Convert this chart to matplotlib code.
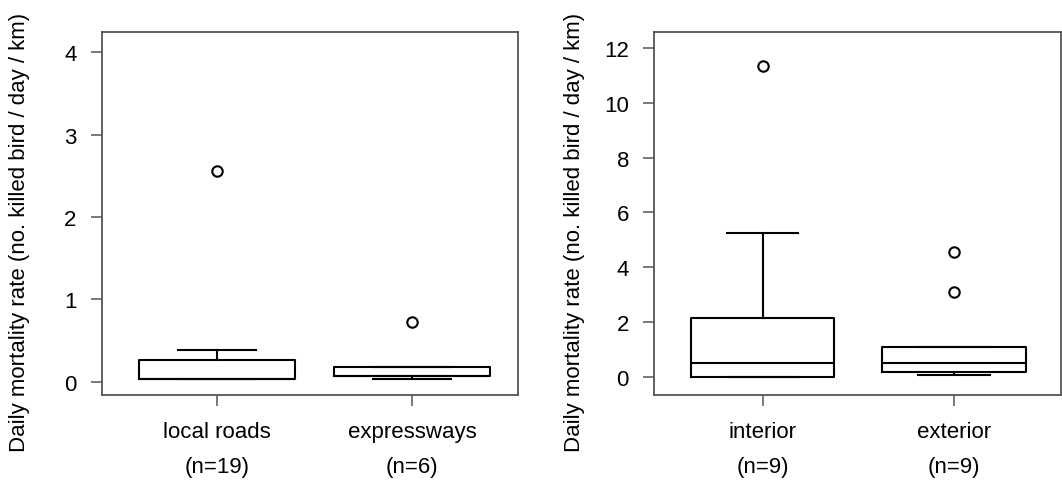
import matplotlib.pyplot as plt

plt.rcParams['font.family'] = ['Liberation Sans', 'DejaVu Sans']

# left panel: road type
road_labels = ['local roads\n(n=19)', 'expressways\n(n=6)']
road_q1 = [0.03, 0.07]
road_med = [0.03, 0.07]
road_q3 = [0.26, 0.18]
road_lo = [0.03, 0.035]
road_hi = [0.385, 0.18]
road_out = [[2.56], [0.73]]

# right panel: position
pos_labels = ['interior\n(n=9)', 'exterior\n(n=9)']
pos_q1 = [0.0, 0.17]
pos_med = [0.49, 0.49]
pos_q3 = [2.13, 1.085]
pos_lo = [0.0, 0.07]
pos_hi = [5.24, 1.085]
pos_out = [[11.35], [4.56, 3.08]]

ylabel = 'Daily mortality rate (no. killed bird / day / km)'


def make_stats(q1, med, q3, lo, hi, out):
    stats = []
    for i in range(len(q1)):
        stats.append(dict(q1=q1[i], med=med[i], q3=q3[i],
                          whislo=lo[i], whishi=hi[i], fliers=out[i]))
    return stats


def draw_panel(ax, stats, labels, width, xlim, ylim, yticks):
    ax.bxp(stats, positions=[1, 2], widths=width, showfliers=True,
           boxprops=dict(color='black', linewidth=1.5),
           medianprops=dict(color='black', linewidth=1.5),
           whiskerprops=dict(color='black', linewidth=1.5),
           capprops=dict(color='black', linewidth=1.5),
           capwidths=width / 2,
           flierprops=dict(marker='o', markersize=7.5, markerfacecolor='none',
                           markeredgecolor='black', markeredgewidth=1.5))
    ax.set_xlim(*xlim)
    ax.set_ylim(*ylim)
    ax.set_yticks(yticks)
    ax.set_xticks([1, 2])
    ax.set_xticklabels(labels, linespacing=1.85)
    for s in ax.spines.values():
        s.set_color('#555555')
        s.set_linewidth(1.3)
    ax.tick_params(axis='both', length=8, width=1.1, color='#555555',
                   labelsize=16, pad=10)
    ax.tick_params(axis='x', pad=11)
    ax.set_ylabel(ylabel, fontsize=16)
    ax.yaxis.set_label_coords(-0.172, 0.45)


fig = plt.figure(figsize=(10.62, 4.81), dpi=100)
ax1 = fig.add_axes([0.0958, 0.1773, 0.3923, 0.7535])
ax2 = fig.add_axes([0.6158, 0.1773, 0.3832, 0.7535])

draw_panel(ax1, make_stats(road_q1, road_med, road_q3, road_lo, road_hi, road_out),
           road_labels, 0.8, (0.41, 2.545), (-0.158, 4.243), [0, 1, 2, 3, 4])
draw_panel(ax2, make_stats(pos_q1, pos_med, pos_q3, pos_lo, pos_hi, pos_out),
           pos_labels, 0.75, (0.432, 2.56), (-0.658, 12.58), [0, 2, 4, 6, 8, 10, 12])
ax2.yaxis.set_label_coords(-0.17, 0.45)

fig.savefig('out.png', dpi=100)
